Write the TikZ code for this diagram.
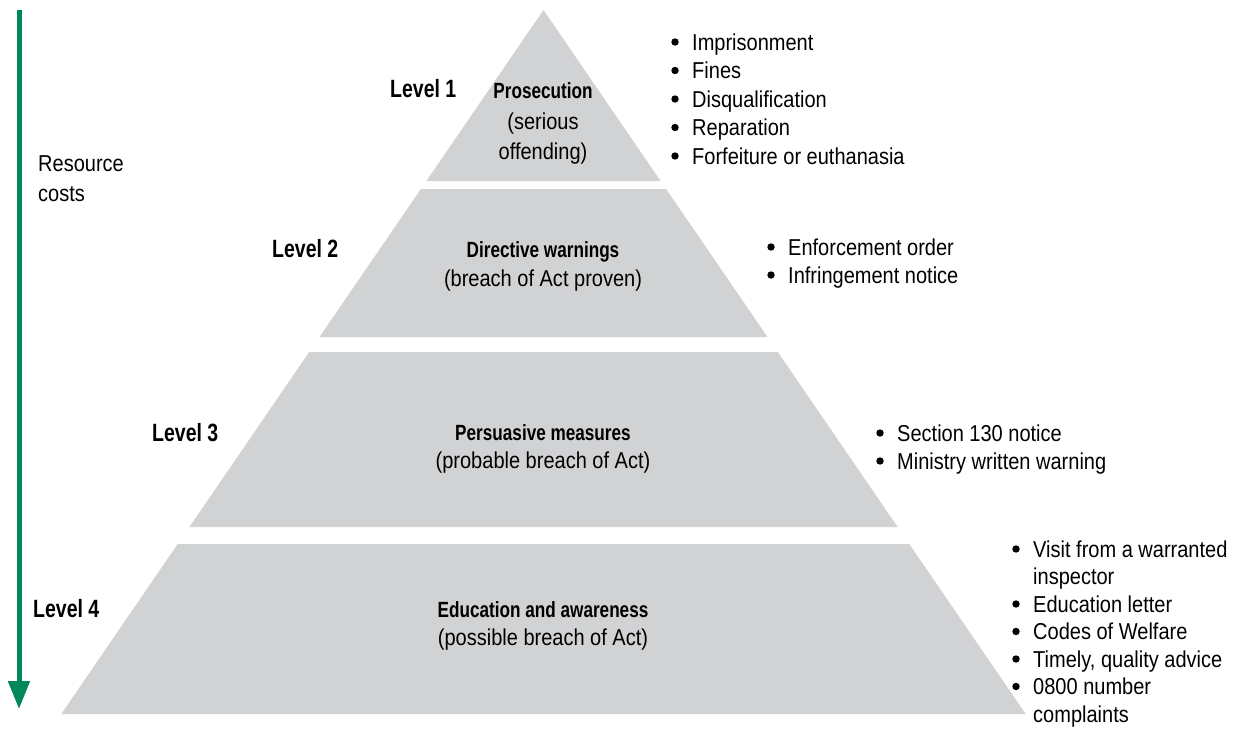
\documentclass[tikz,border=0pt]{standalone}
\usepackage{fontspec}
\setmainfont{Liberation Sans}[FakeStretch=0.87,BoldFeatures={FakeStretch=0.78}]
\usetikzlibrary{arrows.meta}
\definecolor{pyrgray}{HTML}{D1D2D4}
\definecolor{arrgreen}{HTML}{00875A}
\begin{document}
\begin{tikzpicture}[x=1pt,y=-1pt,
  txt/.style={inner sep=0pt, font=\fontsize{23}{28}\selectfont},
  lvl/.style={inner sep=0pt, anchor=base west, font=\fontsize{25}{30}\selectfont\bfseries},
  ttl/.style={inner sep=0pt, anchor=base, font=\fontsize{22}{27}\selectfont\bfseries},
  sub/.style={txt, anchor=base},
  itm/.style={txt, anchor=base west},
  tier/.style={fill=pyrgray, draw=none},
  dot/.style={fill=black}]
\useasboundingbox (0,0) rectangle (1250,731);
% pyramid tiers
\fill[tier] (543.5,10) -- (660.6,181) -- (426.4,181) -- cycle;
\fill[tier] (420.9,189) -- (666.1,189) -- (767.5,337) -- (319.5,337) -- cycle;
\fill[tier] (309.2,352) -- (777.8,352) -- (897.6,527) -- (189.4,527) -- cycle;
\fill[tier] (177.7,544) -- (909.3,544) -- (1025.7,714) -- (61.3,714) -- cycle;
% arrow
\coordinate (atop) at (19,10);
\coordinate (abot) at (19,709);
\draw[arrgreen, line width=5pt, -{Triangle[width=21pt,length=28pt]}] (atop) -- (abot);
\node[itm] (rc1) at (38,171) {Resource};
\node[itm] (rc2) at (38,201) {costs};
% level labels
\node[lvl] (l1) at (390,97) {Level 1};
\node[lvl] (l2) at (272,257) {Level 2};
\node[lvl] (l3) at (152,441) {Level 3};
\node[lvl] (l4) at (33,617) {Level 4};
% titles
\node[ttl] (t1) at (543,98) {Prosecution};
\node[sub] (s1a) at (543,129) {(serious};
\node[sub] (s1b) at (543,159) {offending)};
\node[ttl] (t2) at (543,257) {Directive warnings};
\node[sub] (s2) at (543,286) {(breach of Act proven)};
\node[ttl] (t3) at (543,440) {Persuasive measures};
\node[sub] (s3) at (543,468) {(probable breach of Act)};
\node[ttl] (t4) at (543,617) {Education and awareness};
\node[sub] (s4) at (543,645) {(possible breach of Act)};
% bullets level 1
\node[itm] (b1a) at (692,50) {Imprisonment};
\node[itm] (b1b) at (692,78.5) {Fines};
\node[itm] (b1c) at (692,107) {Disqualification};
\node[itm] (b1d) at (692,135.5) {Reparation};
\node[itm] (b1e) at (692,164) {Forfeiture or euthanasia};
% bullets level 2
\node[itm] (b2a) at (788,255) {Enforcement order};
\node[itm] (b2b) at (788,283) {Infringement notice};
% bullets level 3
\node[itm] (b3a) at (897,441) {Section 130 notice};
\node[itm] (b3b) at (897,469) {Ministry written warning};
% bullets level 4
\node[itm] (b4a) at (1033,557) {Visit from a warranted};
\node[itm] (b4b) at (1033,584.5) {inspector};
\node[itm] (b4c) at (1033,612) {Education letter};
\node[itm] (b4d) at (1033,639.5) {Codes of Welfare};
\node[itm] (b4e) at (1033,667) {Timely, quality advice};
\node[itm] (b4f) at (1033,694.5) {0800 number};
\node[itm] (b4g) at (1033,722) {complaints};
% bullet dots
\foreach \n in {b1a,b1b,b1c,b1d,b1e,b2a,b2b,b3a,b3b,b4a,b4c,b4d,b4e,b4f}
  \fill[dot] ([shift={(-17,-8)}]\n.base west) circle[radius=3.7pt];
\end{tikzpicture}
\end{document}
